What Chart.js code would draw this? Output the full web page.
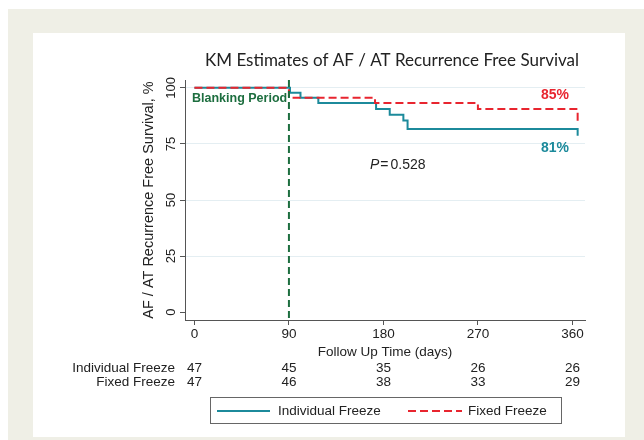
<!DOCTYPE html>
<html>
<head>
<meta charset="utf-8">
<script src="https://cdn.jsdelivr.net/npm/chart.js@4"></script>
<style>
html,body{margin:0;padding:0;background:#fff;}
#wrap{width:644px;height:440px;}
</style>
</head>
<body>
<div id="wrap"><canvas id="c" width="644" height="440"></canvas></div>
<script>
// ---- data ----
const chartTitle = 'KM Estimates of AF / AT Recurrence Free Survival';
const seriesNames = ['Individual Freeze', 'Fixed Freeze'];
const xTickDays = [0, 90, 180, 270, 360];
const yTickVals = [0, 25, 50, 75, 100];
const indivTimes = [0, 91, 101, 118, 173, 186, 199, 203, 365];
const indivSurv  = [100, 97.8, 95.6, 93.2, 90.6, 88.0, 85.4, 81.7, 78.6];
const fixedTimes = [0, 90, 172, 270, 365];
const fixedSurv  = [100, 95.6, 93.3, 90.6, 84.8];
const riskIndiv = [47, 45, 35, 26, 26];
const riskFixed = [47, 46, 38, 33, 29];
const blankingDay = 90;
const finalLabels = ['81%', '85%'];
const pValueText = '0.528';

const TEAL = '#1c8a9b';
const RED = '#e8252f';
const GREEN = '#1d6e3f';
const TXT = '#222';
const SANS = '"Liberation Sans", Arial, sans-serif';

const toPts = (t, s) => t.map((v, i) => ({x: v, y: s[i]}));

const decor = {
  id: 'decor',
  beforeDraw(chart) {
    const ctx = chart.ctx;
    ctx.save();
    ctx.fillStyle = '#ffffff';
    ctx.fillRect(0, 0, 644, 440);
    ctx.fillStyle = '#efefe6';
    ctx.fillRect(8, 9, 636, 431);
    ctx.fillStyle = '#ffffff';
    ctx.fillRect(33, 33, 592, 404);
    ctx.restore();
  },
  afterDatasetsDraw(chart) {
    const ctx = chart.ctx;
    const xs = chart.scales.x;
    const ca = chart.chartArea;
    const bx = xs.getPixelForValue(blankingDay);
    ctx.save();
    ctx.strokeStyle = GREEN;
    ctx.lineWidth = 2;
    ctx.setLineDash([7, 4]);
    ctx.beginPath();
    ctx.moveTo(bx, ca.top);
    ctx.lineTo(bx, ca.bottom);
    ctx.stroke();
    ctx.restore();
  },
  afterDraw(chart) {
    const ctx = chart.ctx;
    const xs = chart.scales.x, ys = chart.scales.y;
    const ca = chart.chartArea;
    ctx.save();
    ctx.textBaseline = 'middle';
    // title
    ctx.fillStyle = TXT;
    ctx.font = '17px Lato, "Open Sans", sans-serif';
    ctx.textAlign = 'center';
    ctx.fillText(chartTitle, 392, 61);
    // y tick labels (rotated)
    ctx.font = '13px ' + SANS;
    yTickVals.forEach(v => {
      const py = ys.getPixelForValue(v);
      ctx.save();
      ctx.translate(171, py);
      ctx.rotate(-Math.PI / 2);
      ctx.fillText(String(v), 0, 0);
      ctx.restore();
    });
    // y title
    ctx.save();
    ctx.translate(149, (ca.top + ca.bottom) / 2);
    ctx.rotate(-Math.PI / 2);
    ctx.font = '14.5px ' + SANS;
    ctx.fillText('AF / AT Recurrence Free Survival, %', 0, 0);
    ctx.restore();
    // x tick labels
    ctx.font = '13.5px ' + SANS;
    xTickDays.forEach(v => {
      ctx.fillText(String(v), xs.getPixelForValue(v), 334);
    });
    ctx.fillText('Follow Up Time (days)', (ca.left + ca.right) / 2, 352);
    // risk table
    ctx.textAlign = 'right';
    ctx.fillText(seriesNames[0], 175, 368);
    ctx.fillText(seriesNames[1], 175, 382);
    ctx.textAlign = 'center';
    xTickDays.forEach((v, i) => {
      const px = xs.getPixelForValue(v);
      ctx.fillText(String(riskIndiv[i]), px, 368);
      ctx.fillText(String(riskFixed[i]), px, 382);
    });
    // Blanking period text
    ctx.fillStyle = GREEN;
    ctx.font = 'bold 12.5px ' + SANS;
    ctx.textAlign = 'left';
    ctx.fillText('Blanking Period', 192, 99);
    // final labels
    ctx.font = 'bold 14px ' + SANS;
    ctx.fillStyle = RED;
    ctx.fillText(finalLabels[1], 541, 95);
    ctx.fillStyle = TEAL;
    ctx.fillText(finalLabels[0], 541, 148);
    // P value
    ctx.fillStyle = TXT;
    ctx.font = 'italic 14px ' + SANS;
    ctx.fillText('P', 370, 165);
    const pw = ctx.measureText('P').width;
    ctx.font = '14px ' + SANS;
    ctx.fillText('=', 370 + pw + 1, 165);
    const ew = ctx.measureText('=').width;
    ctx.fillText(pValueText, 370 + pw + ew + 3, 165);
    // legend
    ctx.strokeStyle = '#666';
    ctx.lineWidth = 1;
    ctx.strokeRect(210.5, 397.5, 351, 26);
    ctx.lineWidth = 2;
    ctx.strokeStyle = TEAL;
    ctx.beginPath(); ctx.moveTo(217, 411); ctx.lineTo(270, 411); ctx.stroke();
    ctx.strokeStyle = RED;
    ctx.setLineDash([8, 4]);
    ctx.beginPath(); ctx.moveTo(408, 411); ctx.lineTo(462, 411); ctx.stroke();
    ctx.setLineDash([]);
    ctx.fillStyle = TXT;
    ctx.font = '13.5px ' + SANS;
    ctx.fillText(seriesNames[0], 278, 411);
    ctx.fillText(seriesNames[1], 468, 411);
    ctx.restore();
  }
};

new Chart(document.getElementById('c'), {
  type: 'line',
  data: {
    datasets: [
      {
        label: seriesNames[0],
        data: toPts(indivTimes, indivSurv),
        borderColor: TEAL,
        borderWidth: 2,
        stepped: 'before',
        pointRadius: 0,
        fill: false,
        order: 1
      },
      {
        label: seriesNames[1],
        data: toPts(fixedTimes, fixedSurv),
        borderColor: RED,
        borderWidth: 2,
        borderDash: [8, 4],
        stepped: 'before',
        pointRadius: 0,
        fill: false,
        order: 0
      }
    ]
  },
  options: {
    responsive: false,
    animation: false,
    devicePixelRatio: 1,
    layout: {padding: {left: 180, right: 59, top: 80, bottom: 115}},
    plugins: {legend: {display: false}, tooltip: {enabled: false}, title: {display: false}},
    scales: {
      x: {
        type: 'linear',
        min: -9,
        max: 372,
        afterBuildTicks: s => { s.ticks = xTickDays.map(v => ({value: v})); },
        afterFit: s => { s.height = 5; },
        ticks: {display: false},
        grid: {drawOnChartArea: false, drawTicks: true, tickLength: 5, tickColor: '#555', tickWidth: 1},
        border: {display: true, color: '#555', width: 1}
      },
      y: {
        type: 'linear',
        min: -3.5,
        max: 103.5,
        afterBuildTicks: s => { s.ticks = yTickVals.map(v => ({value: v})); },
        afterFit: s => { s.width = 5; },
        ticks: {display: false},
        grid: {
          drawTicks: true, tickLength: 5, tickColor: '#555', tickWidth: 1,
          color: c => (c.tick && c.tick.value === 0) ? 'rgba(0,0,0,0)' : '#e4eef2',
          lineWidth: 1
        },
        border: {display: true, color: '#555', width: 1}
      }
    }
  },
  plugins: [decor]
});
</script>
</body>
</html>
